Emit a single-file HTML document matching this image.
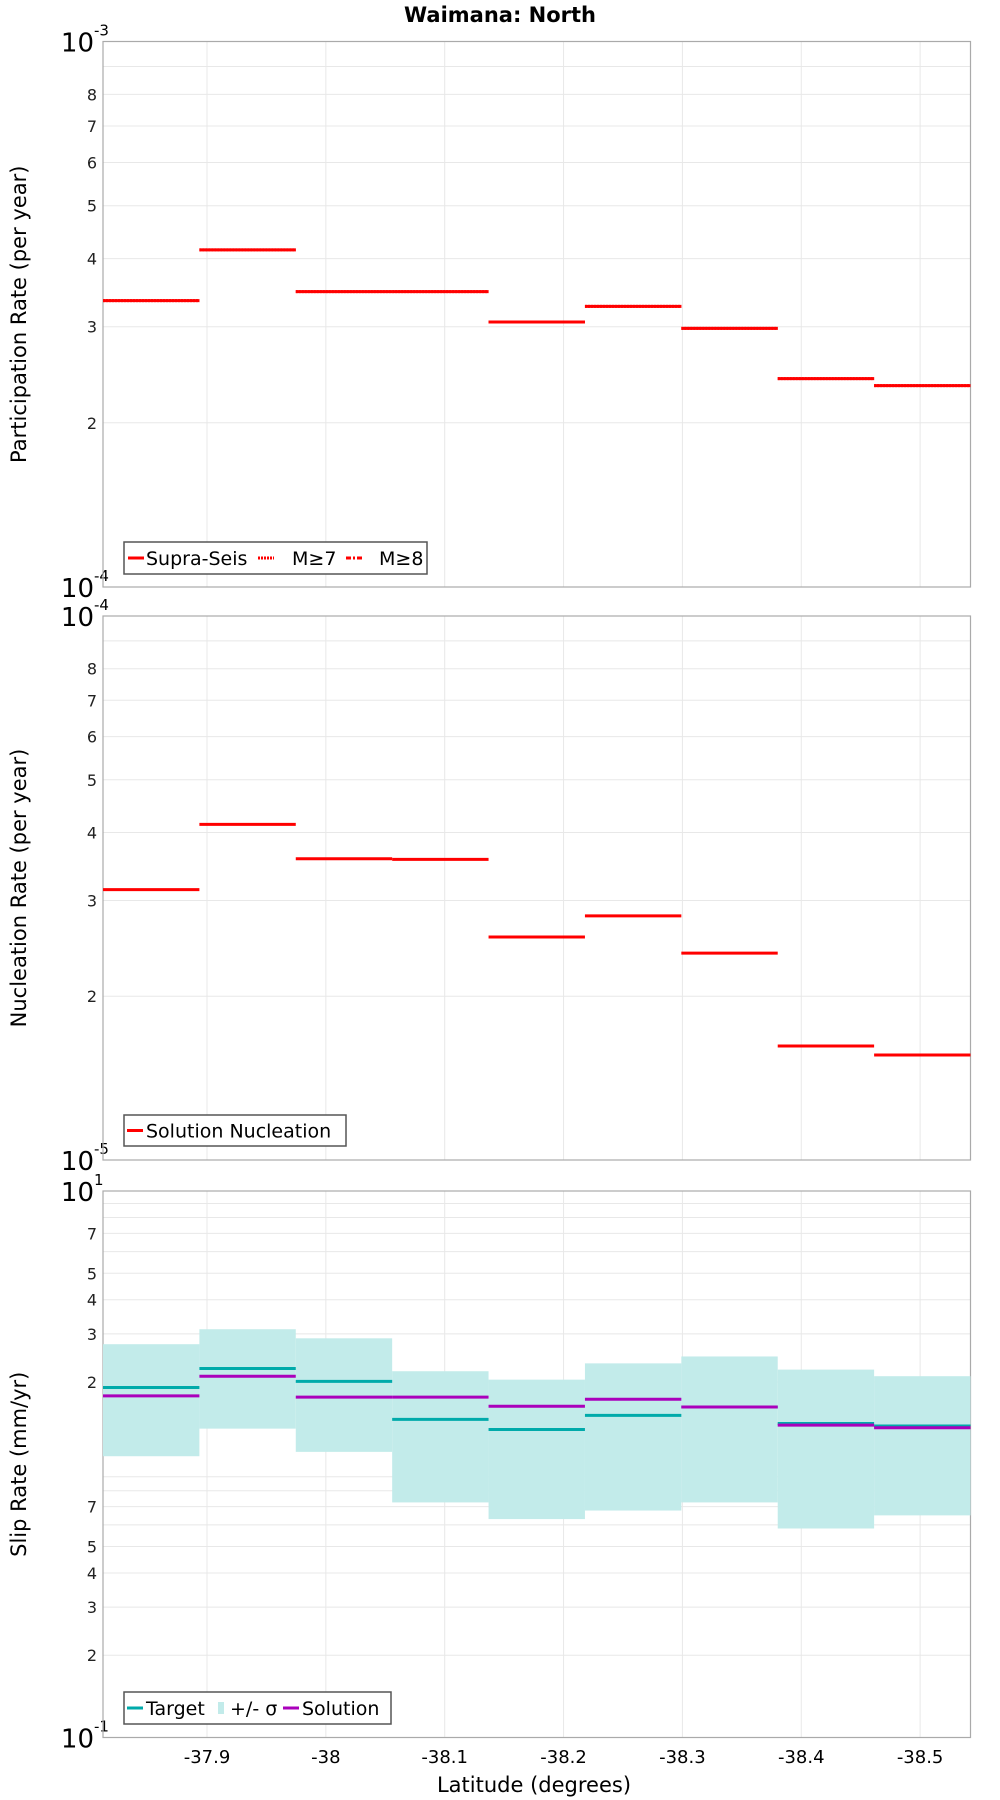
<!DOCTYPE html>
<html><head><meta charset="utf-8"><style>
body{margin:0;background:#fff;}
svg{display:block;font-family:"DejaVu Sans","Liberation Sans",sans-serif;}
</style></head><body>
<svg id="chart" width="1000" height="1800" viewBox="0 0 1000 1800" xmlns="http://www.w3.org/2000/svg">
<text x="500" y="22" text-anchor="middle" font-size="21" font-weight="bold">Waimana: North</text>
<text x="534" y="1792" text-anchor="middle" font-size="21">Latitude (degrees)</text>
</svg>
<script>
const latStart = -37.8125;
const latStep = 0.0811;
const xTicks = [-37.9, -38.0, -38.1, -38.2, -38.3, -38.4, -38.5];
const xTickLabels = ["-37.9", "-38", "-38.1", "-38.2", "-38.3", "-38.4", "-38.5"];
const partSupra = [3.35e-4, 4.15e-4, 3.48e-4, 3.48e-4, 3.06e-4, 3.27e-4, 2.98e-4, 2.41e-4, 2.34e-4];
const partM7 = [3.35e-4, 4.15e-4, 3.48e-4, 3.48e-4, 3.06e-4, 3.27e-4, 2.98e-4, 2.41e-4, 2.34e-4];
const nucl = [3.14e-5, 4.14e-5, 3.58e-5, 3.57e-5, 2.57e-5, 2.81e-5, 2.40e-5, 1.62e-5, 1.56e-5];
const slipTarget = [1.91, 2.24, 2.01, 1.46, 1.34, 1.51, 1.62, 1.41, 1.38];
const slipSolution = [1.78, 2.10, 1.76, 1.76, 1.63, 1.73, 1.62, 1.39, 1.36];
const slipUpper = [2.75, 3.12, 2.89, 2.19, 2.04, 2.34, 2.48, 2.22, 2.10];
const slipLower = [1.07, 1.35, 1.11, 0.725, 0.63, 0.677, 0.725, 0.582, 0.65];

const NS = "http://www.w3.org/2000/svg";
const svg = document.getElementById('chart');
const L = 103, R = 970.5;
function xs(lat){ return L + (lat - latStart) / (latStart - latStep*9 - latStart) * (R - L); }
function mk(tag, attrs, parent){ const e = document.createElementNS(NS, tag); for (const k in attrs) e.setAttribute(k, attrs[k]); (parent||svg).appendChild(e); return e; }

function panel(top, bot, dmin, dmax, minorLabels, yTitle, key){
  const ys = v => bot - (Math.log10(v) - dmin) / (dmax - dmin) * (bot - top);
  const g = mk('g', {});
  
  
  // grid
  for (let d = dmin; d < dmax; d++) for (let m = 2; m <= 9; m++) {
    const y = ys(m * Math.pow(10, d));
    const gl = mk('line', {x1:L, x2:R, y1:y, y2:y, stroke:'#e8e8e8', 'stroke-width':1}, g);
    
    
    if (minorLabels.includes(m)) {
      const t = mk('text', {x:L-6, y:y+6, 'text-anchor':'end', 'font-size':16, fill:'#222'}, g);
      
      
      t.textContent = String(m);
    }
  }
  xTicks.forEach(v => {
    const x = xs(v);
    const vl = mk('line', {x1:x, x2:x, y1:top, y2:bot, stroke:'#e8e8e8', 'stroke-width':1}, g);
    
    
  });
  [[dmax, top], [dmin, bot]].forEach(([d, y]) => {
    const t = mk('text', {x:L-9, y:y+10, 'text-anchor':'end', 'font-size':26}, g);
    
    
    t.textContent = '10';
    const s = mk('text', {x:L-9, y:y-6, 'font-size':15}, g);
    
    
    s.textContent = String(d);
  });
  const fr = mk('rect', {x:L, y:top, width:R-L, height:bot-top, fill:'none', stroke:'#aaa', 'stroke-width':1.2}, g);
  
  
  const yt = mk('text', {x:0, y:0, transform:`translate(26 ${(top+bot)/2}) rotate(-90)`, 'text-anchor':'middle', 'font-size':21}, g);
  
  
  yt.textContent = yTitle;
  return {g, ys};
}

function steps(p, vals, color, w, name, dash){
  vals.forEach((v, i) => {
    const x1 = xs(latStart - latStep*i), x2 = xs(latStart - latStep*(i+1));
    const y = p.ys(v);
    const a = {x1:x1, x2:x2, y1:y, y2:y, stroke:color, 'stroke-width':w};
    if (dash) a['stroke-dasharray'] = dash;
    const l = mk('line', a, p.g);
    
    
  });
}

function legend(p, x, y, w, h, items){
  const r = mk('rect', {x:x, y:y, width:w, height:h, fill:'#fff', stroke:'#555', 'stroke-width':1.5}, p.g);
  
  
  items.forEach(it => {
    if (it.band) {
      const b = mk('rect', {x:it.x, y:y+h/2-6, width:6, height:12, fill:'#c2ebea'}, p.g);
      
      
    } else {
      const a = {x1:it.x, x2:it.x+16, y1:y+h/2, y2:y+h/2, stroke:it.c, 'stroke-width':3};
      if (it.dash) a['stroke-dasharray'] = it.dash;
      const l = mk('line', a, p.g);
      
      
    }
    const t = mk('text', {x:it.tx, y:y+h/2+7, 'font-size':19}, p.g);
    
    
    t.textContent = it.label;
  });
}

// Panel 1
const p1 = panel(41.5, 587, -4, -3, [2,3,4,5,6,7,8], 'Participation Rate (per year)', 'participation');
steps(p1, partSupra, '#ff0000', 3, 'supra-seis-step');
steps(p1, partM7, '#ff0000', 3, 'm7-step', '2 1');
legend(p1, 124, 542, 303, 32, [
  {x:128, tx:146, c:'#f00', label:'Supra-Seis'},
  {x:258, tx:292, c:'#f00', dash:'2 1', label:'M≥7'},
  {x:346, tx:379, c:'#f00', dash:'5 2 2 2', label:'M≥8'}
]);

// Panel 2
const p2 = panel(616, 1160, -5, -4, [2,3,4,5,6,7,8], 'Nucleation Rate (per year)', 'nucleation');
steps(p2, nucl, '#ff0000', 3, 'nucleation-step');
legend(p2, 124, 1115, 222, 31, [{x:127, tx:146, c:'#f00', label:'Solution Nucleation'}]);

// Panel 3
const p3 = panel(1191, 1737.5, -1, 1, [2,3,4,5,7], 'Slip Rate (mm/yr)', 'slip-rate');
slipUpper.forEach((u, i) => {
  const x1 = xs(latStart - latStep*i), x2 = xs(latStart - latStep*(i+1));
  const r = mk('rect', {x:x1, y:p3.ys(u), width:x2-x1, height:p3.ys(slipLower[i])-p3.ys(u), fill:'#c2ebea'}, p3.g);
  
  
});
steps(p3, slipTarget, '#00aaaa', 3, 'target-step');
steps(p3, slipSolution, '#aa00bb', 3, 'solution-step');
legend(p3, 124, 1692, 267, 32, [
  {x:127, tx:146, c:'#00aaaa', label:'Target'},
  {x:218, tx:230, band:true, label:'+/- σ'},
  {x:283, tx:302, c:'#aa00bb', label:'Solution'}
]);

// x tick labels
xTicks.forEach((v, i) => {
  const t = mk('text', {x:xs(v), y:1763, 'text-anchor':'middle', 'font-size':18});
  
  
  t.textContent = xTickLabels[i];
});
</script>
</body></html>
